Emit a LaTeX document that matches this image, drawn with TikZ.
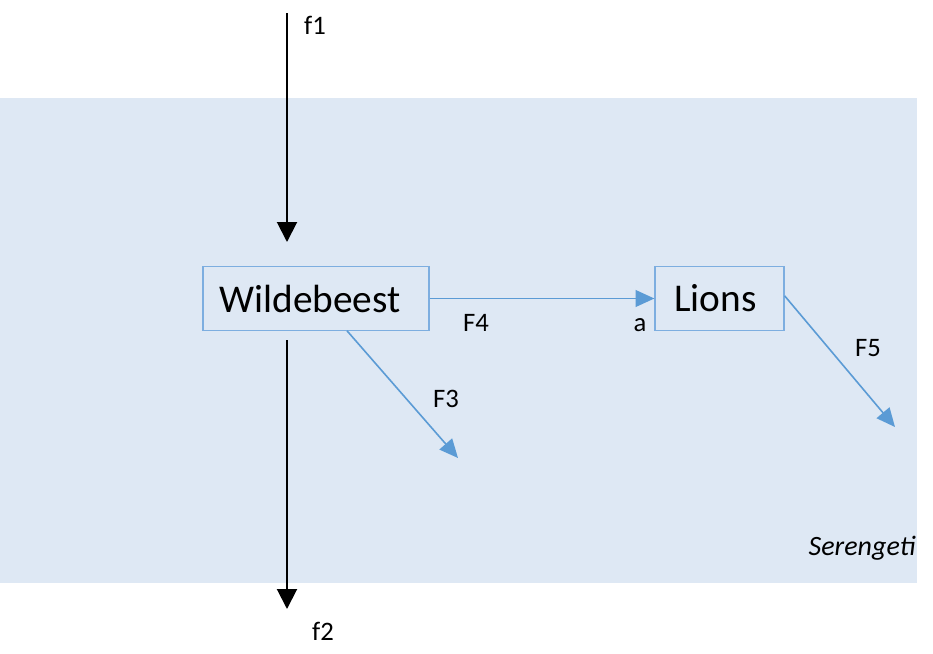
\documentclass[tikz,border=0pt]{standalone}
\usepackage{fontspec}
\setmainfont{Carlito}
\usetikzlibrary{arrows.meta}

\definecolor{parkbg}{HTML}{DEE8F4}
\definecolor{flowblue}{HTML}{5B9BD5}
\definecolor{boxline}{HTML}{7DAEE0}

\begin{document}
\begin{tikzpicture}[
  x=0.75pt, y=-0.75pt,
  stock/.style={draw=boxline, line width=0.9pt, fill=parkbg,
                minimum height=47.5pt, inner sep=0pt,
                font=\fontsize{29.5}{34}\selectfont},
  lbl/.style={font=\fontsize{20}{24}\selectfont, inner sep=0pt},
  ext/.style={-{Triangle[length=15pt,width=15pt]}, line width=1.5pt, black},
  flow/.style={-{Triangle[length=14pt,width=12.5pt]}, line width=1.2pt, flowblue},
]
\useasboundingbox (0,0) rectangle (933,654);

% ---- Serengeti system boundary ----
\fill[parkbg] (0,98) rectangle (917,583);
\node[font=\fontsize{21}{25}\selectfont\itshape, inner sep=0pt] (park) at (862,548) {Serengeti};

% ---- stocks ----
\node[stock, minimum width=169.5pt] (wild)  at (316,298.5) {Wildebeest\hspace*{9pt}};
\node[stock, minimum width=96.8pt]  (lions) at (719.5,298.5) {Lions\hspace*{6pt}};

% ---- outside flows (black) ----
\coordinate (f1start) at (287,13);
\coordinate (f1end)   at (287,242);
\coordinate (f2start) at (287,340);
\coordinate (f2end)   at (287,609);
\draw[ext] (f1start) -- (f1end);
\draw[ext] (f2start) -- (f2end);
\node[lbl] (f1) at (315,25)  {f1};
\node[lbl] (f2) at (323,631) {f2};

% ---- flows inside the park (blue) ----
\coordinate (f3end) at (458,458);
\coordinate (f5end) at (895,427);
\draw[flow] (wild.east) -- (lions.west);
\draw[flow] ([xshift=23.25pt]wild.south) -- (f3end);
\draw[flow] ([yshift=2pt]lions.east) -- (f5end);
\node[lbl] (F4) at (476,323) {F4};
\node[lbl] (a)  at (640,325) {a};
\node[lbl] (F3) at (446,399) {F3};
\node[lbl] (F5) at (868,348) {F5};

\end{tikzpicture}
\end{document}
